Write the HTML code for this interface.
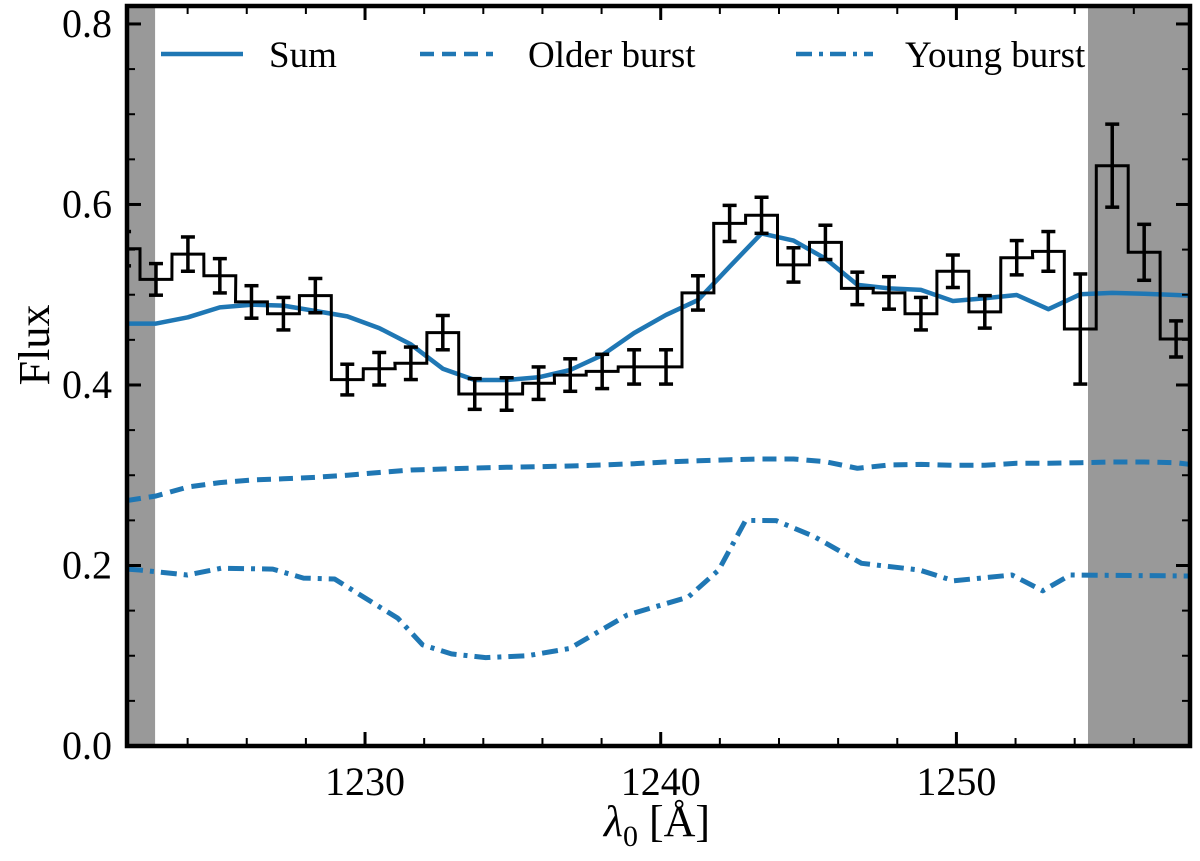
<!DOCTYPE html>
<html><head><meta charset="utf-8"><style>
html,body{margin:0;padding:0;background:#fff;}
svg{display:block;font-family:"Liberation Serif",serif;}
</style></head><body>
<svg id="chart" width="1200" height="851" viewBox="0 0 1200 851">
<defs><clipPath id="plotclip"><rect x="127" y="6" width="1063" height="740"/></clipPath></defs>
<g id="shade"></g>
<g id="marks" clip-path="url(#plotclip)"></g>
<g id="axes"></g>
</svg>
<script>
const binCenters=[1221.85,1222.93,1224.01,1225.09,1226.16,1227.24,1228.32,1229.40,1230.48,1231.55,1232.63,1233.71,1234.79,1235.87,1236.94,1238.02,1239.10,1240.18,1241.26,1242.33,1243.41,1244.49,1245.57,1246.65,1247.72,1248.80,1249.88,1250.96,1252.04,1253.11,1254.19,1255.27,1256.35,1257.43];
const fluxValues=[0.551,0.517,0.545,0.521,0.492,0.479,0.499,0.406,0.418,0.424,0.458,0.390,0.390,0.402,0.411,0.415,0.420,0.420,0.502,0.579,0.588,0.533,0.558,0.507,0.502,0.479,0.526,0.481,0.541,0.548,0.462,0.643,0.547,0.451];
const fluxErrors=[0.019,0.0175,0.019,0.019,0.018,0.018,0.019,0.017,0.018,0.018,0.019,0.017,0.018,0.018,0.018,0.019,0.019,0.019,0.019,0.020,0.020,0.019,0.019,0.018,0.018,0.018,0.018,0.018,0.019,0.022,0.061,0.046,0.031,0.020];
const sumValues=[0.468,0.468,0.475,0.486,0.489,0.488,0.482,0.476,0.463,0.445,0.418,0.4055,0.4055,0.4085,0.4166,0.433,0.4576,0.4776,0.494,0.531,0.568,0.560,0.540,0.511,0.507,0.5053,0.493,0.496,0.4997,0.484,0.5005,0.502,0.501,0.4997];
const olderValues=[0.272,0.277,0.287,0.2918,0.2947,0.296,0.2977,0.300,0.303,0.3058,0.3069,0.308,0.3088,0.3095,0.3102,0.3113,0.3128,0.3147,0.316,0.3172,0.318,0.318,0.315,0.3077,0.3113,0.312,0.311,0.311,0.3132,0.3132,0.3139,0.3147,0.3147,0.3139];
const youngLam=[1221.95,1222.37,1223.99,1225.14,1226.88,1227.92,1228.97,1231.11,1231.95,1232.92,1234.08,1235.50,1236.92,1238.86,1240.93,1241.96,1242.87,1243.90,1245.19,1246.49,1246.79,1248.75,1249.91,1251.88,1252.92,1253.85,1257.9];
const youngValues=[0.196,0.195,0.1895,0.197,0.196,0.186,0.185,0.1415,0.112,0.102,0.098,0.100,0.108,0.145,0.165,0.195,0.250,0.2497,0.232,0.208,0.2024,0.195,0.183,0.1895,0.172,0.1895,0.1884];
const maskRegions=[[1221.95,1222.9],[1254.45,1257.9]];
const xTicks=[1230,1240,1250];
const yTicks=[0.0,0.2,0.4,0.6,0.8];
const legendLabels=["Sum","Older burst","Young burst"];

const X0=127,X1=1190,Y0=746,Y1=6,LMIN=1221.95,LMAX=1257.9,VMAX=0.8199;
const xs=l=>X0+(l-LMIN)/(LMAX-LMIN)*(X1-X0);
const ys=v=>Y0-v/VMAX*(Y0-Y1);
const NS="http://www.w3.org/2000/svg";
function mk(tag,attrs,parent){const e=document.createElementNS(NS,tag);for(const k in attrs)e.setAttribute(k,attrs[k]);parent.appendChild(e);return e;}
const shade=document.getElementById('shade'),marks=document.getElementById('marks'),axes=document.getElementById('axes');
const BLUE="#1f77b4";

maskRegions.forEach((r,i)=>{
  const el=mk('rect',{x:xs(r[0]),y:Y1,width:xs(r[1])-xs(r[0]),height:Y0-Y1,fill:"#999999"},shade);
  
  
});

function line(lams,vals,dash,w,name){
  const d=lams.map((l,i)=>(i?'L':'M')+xs(l).toFixed(1)+','+ys(vals[i]).toFixed(1)).join('');
  const a={d:d,fill:'none',stroke:BLUE,'stroke-width':w,'stroke-linejoin':'round'};
  if(dash)a['stroke-dasharray']=dash;
  const el=mk('path',a,marks);
  
  
}
const sumLam=[LMIN].concat(binCenters.slice(1)).concat([LMAX]);
line(sumLam,sumValues.concat([0.499]),null,4.5,'sum-line');
line(sumLam,olderValues.concat([0.312]),'14,8',5,'older-burst-line');
line(youngLam,youngValues,'16,7,4,7',5,'young-burst-line');

const hw=0.539;
let d='';
binCenters.forEach((c,i)=>{
  const y=ys(fluxValues[i]).toFixed(1);
  d+=(i?'L':'M')+xs(c-hw).toFixed(1)+','+y+'L'+xs(c+hw).toFixed(1)+','+y;
});
const step=mk('path',{d:d,fill:'none',stroke:'#000','stroke-width':3},marks);


binCenters.forEach((c,i)=>{
  const x=xs(c),ya=ys(fluxValues[i]+fluxErrors[i]),yb=ys(fluxValues[i]-fluxErrors[i]);
  const g=mk('g',{stroke:'#000','stroke-width':3.5},marks);
  
  
  mk('line',{x1:x,x2:x,y1:ya,y2:yb},g);
  mk('line',{x1:x-7,x2:x+7,y1:ya,y2:ya},g);
  mk('line',{x1:x-7,x2:x+7,y1:yb,y2:yb},g);
});

function tk(x1,y1,x2,y2,w){mk('line',{x1:x1,y1:y1,x2:x2,y2:y2,stroke:'#000','stroke-width':w},axes);}
for(let l=1224;l<=1256;l+=2){
  const x=xs(l),maj=xTicks.includes(l),L=maj?14:8,w=maj?3:2;
  tk(x,Y0,x,Y0-L,w);tk(x,Y1,x,Y1+L,w);
}
for(let k=0;k<=16;k++){
  const v=k*0.05,y=ys(v),maj=k%4==0,L=maj?14:8,w=maj?3:2;
  tk(X0,y,X0+L,y,w);tk(X1,y,X1-L,y,w);
}
xTicks.forEach(t=>{
  const el=mk('text',{x:xs(t),y:795,'font-size':40,'text-anchor':'middle',fill:'#000'},axes);
  el.textContent=t;
  
  
});
yTicks.forEach(t=>{
  const el=mk('text',{x:112,y:ys(t)+13,'font-size':40,'text-anchor':'end',fill:'#000'},axes);
  el.textContent=t.toFixed(1);
  
  
});
const frame=mk('rect',{x:X0,y:Y1,width:X1-X0,height:Y0-Y1,fill:'none',stroke:'#000','stroke-width':4.5},axes);



const legX=[[161,243,269],[420,493,528],[796,873,905]];
const legDash=[null,'14,8','16,7,4,7'];
legendLabels.forEach((lab,i)=>{
  const g=mk('g',{},axes);
  
  
  const a={x1:legX[i][0],x2:legX[i][1],y1:54,y2:54,stroke:BLUE,'stroke-width':4.5};
  if(legDash[i])a['stroke-dasharray']=legDash[i];
  mk('line',a,g);
  const t=mk('text',{x:legX[i][2],y:67,'font-size':37,fill:'#000'},g);
  t.textContent=lab;
});
</script>
<div style="position:absolute;left:0;top:0;width:1200px;height:851px;pointer-events:none">
<div style="position:absolute;left:-10px;top:323px;width:90px;text-align:center;transform:rotate(-90deg);font:44px 'Liberation Serif',serif;line-height:44px">Flux</div>
<div style="position:absolute;left:552px;top:798px;width:210px;text-align:center;font:44px 'Liberation Serif',serif;line-height:48px"><i>λ</i><sub style="font-size:30px">0</sub> [Å]</div>
</div>
</body></html>
